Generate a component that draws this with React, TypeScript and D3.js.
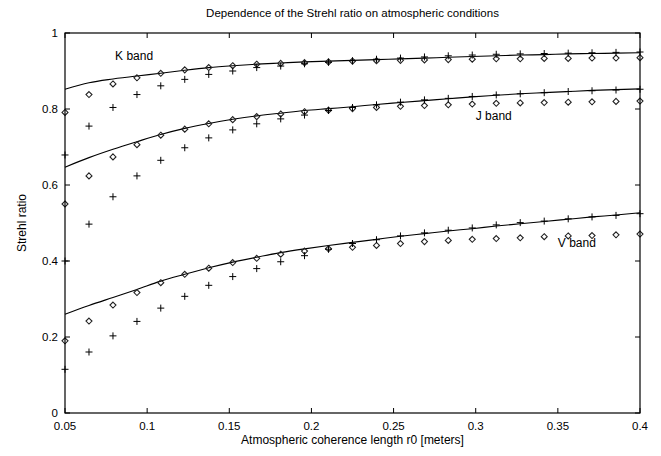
import React from 'react';
import * as d3 from 'd3';

// atmospheric coherence length r0 [m]
const r0 = [0.05, 0.0646, 0.0792, 0.0938, 0.1083, 0.1229, 0.1375, 0.1521, 0.1667, 0.1813, 0.1958, 0.2104, 0.225,
  0.2396, 0.2542, 0.2688, 0.2833, 0.2979, 0.3125, 0.3271, 0.3417, 0.3563, 0.3708, 0.3854, 0.4];

// K band
const kLine = [0.852, 0.869, 0.879, 0.887, 0.894, 0.902, 0.909, 0.914, 0.918, 0.921, 0.924, 0.926, 0.928, 0.930,
  0.932, 0.934, 0.936, 0.938, 0.940, 0.942, 0.943, 0.945, 0.946, 0.947, 0.948];
const kDiamond = [0.791, 0.838, 0.866, 0.882, 0.894, 0.903, 0.909, 0.914, 0.918, 0.920, 0.922, 0.924, 0.926, 0.927,
  0.928, 0.929, 0.930, 0.931, 0.932, 0.932, 0.933, 0.933, 0.934, 0.934, 0.935];
const kPlus = [0.679, 0.755, 0.804, 0.838, 0.861, 0.878, 0.891, 0.900, 0.909, 0.913, 0.919, 0.923, 0.927, 0.931,
  0.934, 0.937, 0.940, 0.942, 0.944, 0.945, 0.946, 0.947, 0.948, 0.949, 0.950];

// J band
const jLine = [0.647, 0.672, 0.694, 0.714, 0.733, 0.749, 0.762, 0.773, 0.782, 0.789, 0.796, 0.801, 0.806, 0.812,
  0.817, 0.822, 0.827, 0.832, 0.836, 0.840, 0.843, 0.846, 0.849, 0.851, 0.853];
const jDiamond = [0.550, 0.624, 0.674, 0.706, 0.731, 0.747, 0.761, 0.772, 0.780, 0.787, 0.793, 0.797, 0.801, 0.804,
  0.807, 0.809, 0.811, 0.813, 0.815, 0.816, 0.817, 0.818, 0.819, 0.820, 0.821];
const jPlus = [0.400, 0.497, 0.569, 0.624, 0.665, 0.698, 0.724, 0.745, 0.761, 0.774, 0.784, 0.796, 0.804, 0.811,
  0.818, 0.824, 0.828, 0.833, 0.837, 0.840, 0.843, 0.846, 0.848, 0.850, 0.852];

// V band
const vLine = [0.260, 0.283, 0.304, 0.325, 0.347, 0.365, 0.382, 0.397, 0.410, 0.422, 0.432, 0.441, 0.449, 0.457,
  0.465, 0.472, 0.479, 0.485, 0.492, 0.498, 0.504, 0.510, 0.516, 0.521, 0.527];
const vDiamond = [0.190, 0.242, 0.284, 0.317, 0.343, 0.365, 0.381, 0.396, 0.407, 0.418, 0.426, 0.432, 0.436, 0.441,
  0.446, 0.451, 0.454, 0.457, 0.459, 0.461, 0.464, 0.466, 0.467, 0.469, 0.471];
const vPlus = [0.115, 0.1605, 0.203, 0.241, 0.276, 0.307, 0.336, 0.359, 0.380, 0.398, 0.414, 0.431, 0.446, 0.456,
  0.466, 0.474, 0.481, 0.487, 0.495, 0.501, 0.505, 0.511, 0.516, 0.520, 0.5245];

const xTicks = [0.05, 0.1, 0.15, 0.2, 0.25, 0.3, 0.35, 0.4];
const xTickLabels = ['0.05', '0.1', '0.15', '0.2', '0.25', '0.3', '0.35', '0.4'];
const yTicks = [0, 0.2, 0.4, 0.6, 0.8, 1];
const yTickLabels = ['0', '0.2', '0.4', '0.6', '0.8', '1'];

const bands = [
  { name: 'K band', line: kLine, diamond: kDiamond, plus: kPlus, label: [0.0805, 0.929] },
  { name: 'J band', line: jLine, diamond: jDiamond, plus: jPlus, label: [0.300, 0.77] },
  { name: 'V band', line: vLine, diamond: vDiamond, plus: vPlus, label: [0.350, 0.437] },
];

const W = 661;
const H = 456;
const margin = { top: 33, right: 21, bottom: 43, left: 65 };
const font = '"Liberation Sans", Arial, Helvetica, sans-serif';

export default function App() {
  const x = d3.scaleLinear().domain([0.05, 0.4]).range([margin.left, W - margin.right]);
  const y = d3.scaleLinear().domain([0, 1]).range([H - margin.bottom, margin.top]);
  const line = d3.line<number>().x((_, i) => x(r0[i])).y(d => y(d)).curve(d3.curveMonotoneX);
  const tick = 5;
  const x0 = x.range()[0], x1 = x.range()[1];
  const y0 = y.range()[0], y1 = y.range()[1];

  return (
    <svg width={W} height={H} style={{ position: 'absolute', left: 0, top: 0, background: '#fff' }}
      fontFamily={font} fontSize={12}>
      <rect x={0} y={0} width={W} height={H} fill="#fff" />
      <text x={(x0 + x1) / 2} y={17} textAnchor="middle" fontSize={11.5}>
        Dependence of the Strehl ratio on atmospheric conditions
      </text>

      {/* ticks, mirrored on all sides */}
      {xTicks.map((t, i) => (
        <g key={'xt' + i}>
          <line x1={x(t)} x2={x(t)} y1={y0} y2={y0 - tick} stroke="#000" />
          <line x1={x(t)} x2={x(t)} y1={y1} y2={y1 + tick} stroke="#000" />
          <text x={x(t)} y={y0 + 17} textAnchor="middle" fontSize={11.5}>{xTickLabels[i]}</text>
        </g>
      ))}
      {yTicks.map((t, i) => (
        <g key={'yt' + i}>
          <line x1={x0} x2={x0 + tick} y1={y(t)} y2={y(t)} stroke="#000" />
          <line x1={x1} x2={x1 - tick} y1={y(t)} y2={y(t)} stroke="#000" />
          <text x={x0 - 7} y={y(t) + 3.5} textAnchor="end" fontSize={11.5}>{yTickLabels[i]}</text>
        </g>
      ))}

      {bands.map(b => (
        <g key={b.name}>
          <path d={line(b.line) ?? ''} fill="none" stroke="#000" strokeWidth={1.1} />
          {b.diamond.map((v, i) => {
            const cx = x(r0[i]), cy = y(v), s = 3;
            return (
              <path key={'d' + i} d={`M${cx},${cy - s}L${cx + s},${cy}L${cx},${cy + s}L${cx - s},${cy}Z`}
                fill="none" stroke="#222" strokeWidth={1.1} />
            );
          })}
          {b.plus.map((v, i) => {
            const cx = x(r0[i]), cy = y(v), s = 3.5;
            return (
              <path key={'p' + i} d={`M${cx - s},${cy}H${cx + s}M${cx},${cy - s}V${cy + s}`}
                fill="none" stroke="#000" strokeWidth={1} />
            );
          })}
          <text x={x(b.label[0])} y={y(b.label[1])}>{b.name}</text>
        </g>
      ))}

      <rect x={x0} y={y1} width={x1 - x0} height={y0 - y1} fill="none" stroke="#000" strokeWidth={1.2} />

      <text x={(x0 + x1) / 2} y={444} textAnchor="middle">Atmospheric coherence length r0 [meters]</text>
      <text transform={`translate(26,${(y0 + y1) / 2}) rotate(-90)`} textAnchor="middle">Strehl ratio</text>
    </svg>
  );
}
